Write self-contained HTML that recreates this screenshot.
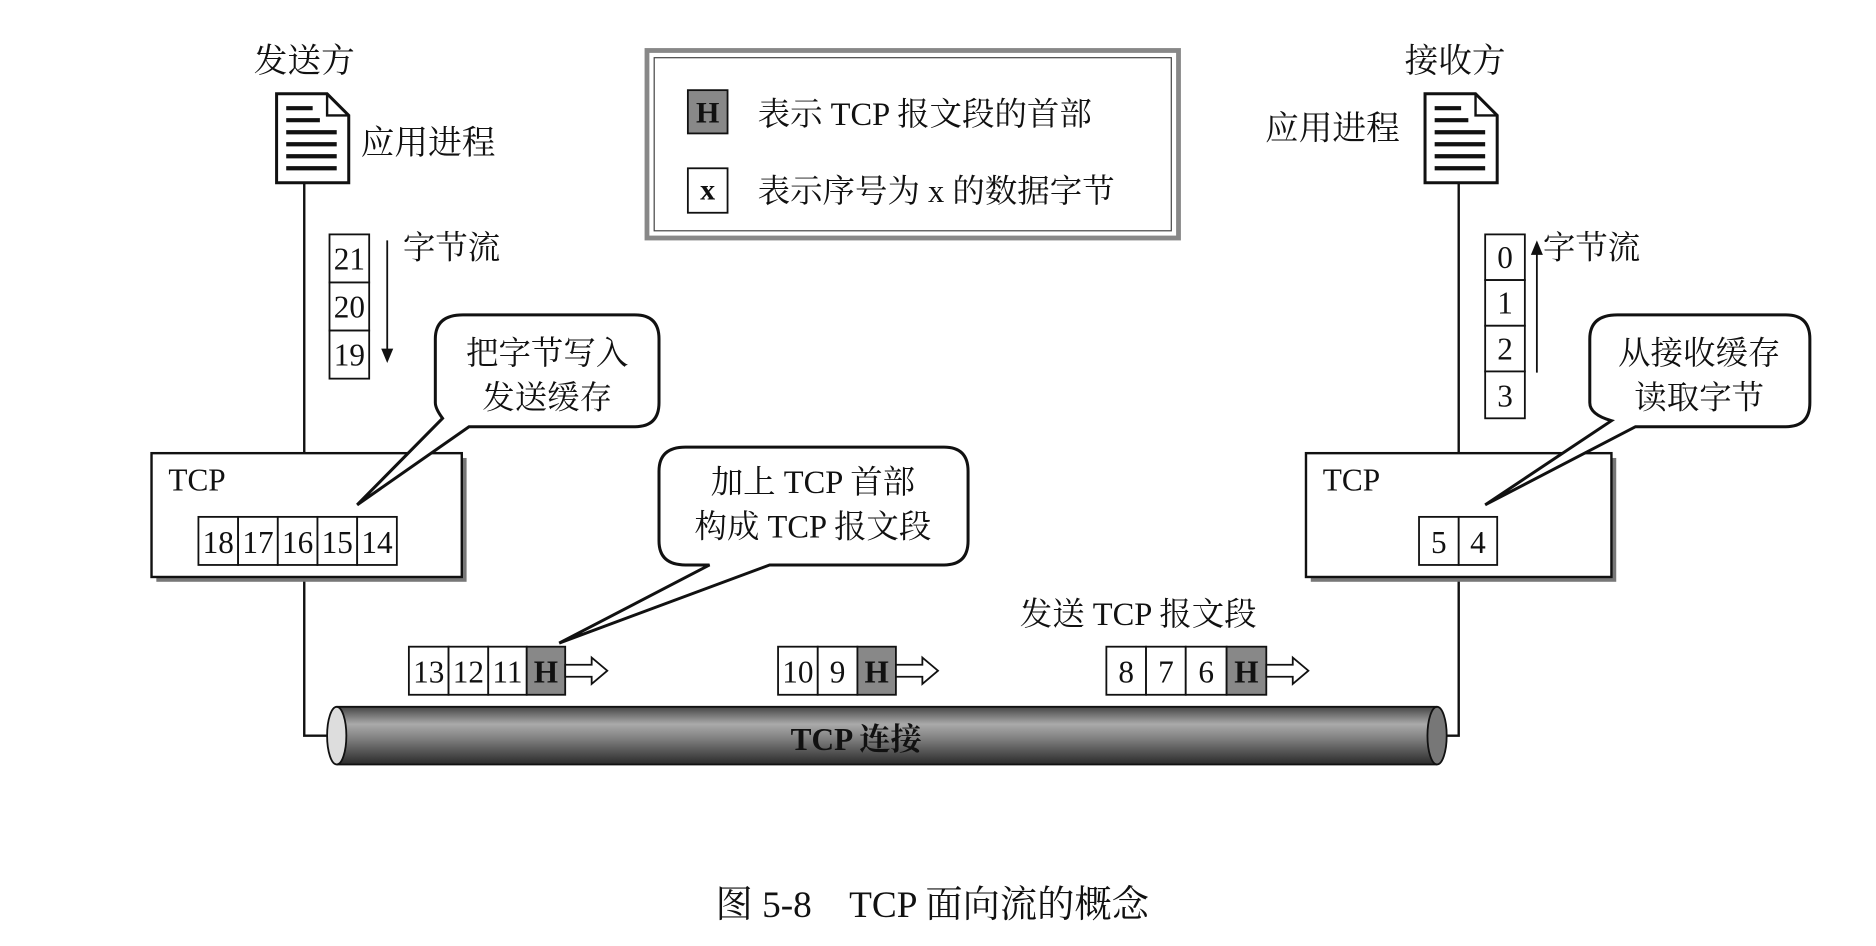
<!DOCTYPE html>
<html><head><meta charset="utf-8"><style>
html,body{margin:0;padding:0;background:#fff;}
svg{display:block;}
text{font-family:"Liberation Serif","Noto Serif CJK SC",serif;fill:#111;}
</style></head><body>
<svg width="1876" height="946" viewBox="0 0 1560 787" preserveAspectRatio="none" xmlns="http://www.w3.org/2000/svg">
<defs>
<linearGradient id="pipe" x1="0" y1="0" x2="0" y2="1">
<stop offset="0" stop-color="#444"/><stop offset="0.3" stop-color="#aaa"/><stop offset="0.55" stop-color="#808080"/><stop offset="1" stop-color="#2a2a2a"/>
</linearGradient>
<g id="doc">
<path d="M0,0 H42 L60,18 V74 H0 Z" fill="#fff" stroke="#111" stroke-width="2.5"/>
<path d="M42,0 V18 H60" fill="none" stroke="#111" stroke-width="2"/>
<path d="M8,12 H30 M8,22 H36 M8,32 H50 M8,42 H50 M8,52 H50 M8,62 H50" stroke="#111" stroke-width="3.5"/>
</g>
</defs>
<g stroke="#111" stroke-width="2" fill="none">
<path d="M253,152 V377"/>
<path d="M253,480 V612 H285"/>
<path d="M1213,152 V377"/>
<path d="M1213,480 V612 H1195"/>
</g>
<!-- pipe -->
<rect x="280" y="588" width="915" height="48" fill="url(#pipe)"/>
<ellipse cx="1195" cy="612" rx="8" ry="24" fill="#777" stroke="#111" stroke-width="1.5"/>
<ellipse cx="280" cy="612" rx="8" ry="24" fill="#ddd" stroke="#111" stroke-width="1.5"/>
<path d="M280,588 H1195 M280,636 H1195" stroke="#111" stroke-width="1.5"/>
<text x="712" y="624" font-size="26" text-anchor="middle" font-weight="bold">TCP 连接</text>

<!-- headings -->
<text x="253" y="60" font-size="28" text-anchor="middle">发送方</text>
<use href="#doc" x="230" y="78"/>
<text x="300" y="128" font-size="28">应用进程</text>
<text x="1210" y="60" font-size="28" text-anchor="middle">接收方</text>
<use href="#doc" x="1185" y="78"/>
<text x="1052" y="116" font-size="28">应用进程</text>

<!-- legend -->
<rect x="538" y="42" width="442" height="156" fill="#fff" stroke="#888" stroke-width="4"/>
<rect x="544" y="48" width="430" height="144" fill="none" stroke="#444" stroke-width="1"/>
<rect x="572" y="75" width="33" height="36" fill="#888" stroke="#111" stroke-width="1.5"/>
<text x="588.5" y="102" font-size="25" text-anchor="middle" font-weight="bold">H</text>
<text x="630" y="104" font-size="27">表示 TCP 报文段的首部</text>
<rect x="572" y="140" width="33" height="37" fill="#fff" stroke="#111" stroke-width="1.5"/>
<text x="588.5" y="166" font-size="25" text-anchor="middle" font-weight="bold">x</text>
<text x="630" y="168" font-size="27">表示序号为 x 的数据字节</text>

<!-- sender byte stream -->
<g stroke="#111" stroke-width="1.5" fill="#fff">
<rect x="274" y="195" width="33" height="40"/><rect x="274" y="235" width="33" height="40"/><rect x="274" y="275" width="33" height="40"/>
</g>
<g font-size="26" text-anchor="middle"><text x="290.5" y="224">21</text><text x="290.5" y="264">20</text><text x="290.5" y="304">19</text></g>
<path d="M322,200 V292" stroke="#111" stroke-width="1.5"/><path d="M317,290 L322,302 L327,290 Z" fill="#111"/>
<text x="335" y="215" font-size="27">字节流</text>

<!-- TCP left -->
<rect x="130" y="381" width="258" height="103" fill="#777"/>
<rect x="126" y="377" width="258" height="103" fill="#fff" stroke="#111" stroke-width="2"/>
<text x="140" y="408" font-size="26">TCP</text>
<g stroke="#111" stroke-width="1.5" fill="#fff">
<rect x="165" y="430" width="33" height="40"/><rect x="198" y="430" width="33" height="40"/><rect x="231" y="430" width="33" height="40"/><rect x="264" y="430" width="33" height="40"/><rect x="297" y="430" width="33" height="40"/>
</g>
<g font-size="26" text-anchor="middle"><text x="181.5" y="460">18</text><text x="214.5" y="460">17</text><text x="247.5" y="460">16</text><text x="280.5" y="460">15</text><text x="313.5" y="460">14</text></g>

<!-- bubble 1 -->
<path d="M385,262 H528 Q548,262 548,282 V335 Q548,355 528,355 H390 L297,420 L368,348 Q362,340 362,335 V282 Q362,262 385,262 Z" fill="#fff" stroke="#111" stroke-width="2.5"/>
<text x="455" y="303" font-size="27" text-anchor="middle">把字节写入</text>
<text x="455" y="340" font-size="27" text-anchor="middle">发送缓存</text>

<!-- TCP right -->
<rect x="1090" y="381" width="254" height="103" fill="#777"/>
<rect x="1086" y="377" width="254" height="103" fill="#fff" stroke="#111" stroke-width="2"/>
<text x="1100" y="408" font-size="26">TCP</text>
<g stroke="#111" stroke-width="1.5" fill="#fff"><rect x="1180" y="430" width="33" height="40"/><rect x="1213" y="430" width="32" height="40"/></g>
<g font-size="26" text-anchor="middle"><text x="1196.5" y="460">5</text><text x="1229" y="460">4</text></g>

<!-- bubble 3 -->
<path d="M1345,262 H1485 Q1505,262 1505,282 V335 Q1505,355 1485,355 H1360 L1235,420 L1340,350 Q1322,345 1322,335 V282 Q1322,262 1345,262 Z" fill="#fff" stroke="#111" stroke-width="2.5"/>
<text x="1413" y="303" font-size="27" text-anchor="middle">从接收缓存</text>
<text x="1413" y="340" font-size="27" text-anchor="middle">读取字节</text>

<!-- bubble 2 -->
<path d="M570,372 H785 Q805,372 805,392 V450 Q805,470 785,470 H640 L465,535 L590,470 H570 Q548,470 548,450 V392 Q548,372 570,372 Z" fill="#fff" stroke="#111" stroke-width="2.5"/>
<text x="676" y="410" font-size="27" text-anchor="middle">加上 TCP 首部</text>
<text x="676" y="447" font-size="27" text-anchor="middle">构成 TCP 报文段</text>

<text x="848" y="520" font-size="27">发送 TCP 报文段</text>

<!-- segments -->
<g stroke="#111" stroke-width="1.5" fill="#fff">
<rect x="340" y="538" width="33" height="40"/><rect x="373" y="538" width="33" height="40"/><rect x="406" y="538" width="32" height="40"/><rect x="438" y="538" width="32" height="40" fill="#888"/>
<rect x="647" y="538" width="33" height="40"/><rect x="680" y="538" width="33" height="40"/><rect x="713" y="538" width="32" height="40" fill="#888"/>
<rect x="920" y="538" width="33" height="40"/><rect x="953" y="538" width="33" height="40"/><rect x="986" y="538" width="34" height="40"/><rect x="1020" y="538" width="33" height="40" fill="#888"/>
<path d="M470,553 H492 V547 L505,558 L492,569 V563 H470 Z"/>
<path d="M745,553 H767 V547 L780,558 L767,569 V563 H745 Z"/>
<path d="M1053,553 H1075 V547 L1088,558 L1075,569 V563 H1053 Z"/>
</g>
<g font-size="26" text-anchor="middle">
<text x="356.5" y="568">13</text><text x="389.5" y="568">12</text><text x="422" y="568">11</text><text x="454" y="568" font-weight="bold">H</text>
<text x="663.5" y="568">10</text><text x="696.5" y="568">9</text><text x="729" y="568" font-weight="bold">H</text>
<text x="936.5" y="568">8</text><text x="969.5" y="568">7</text><text x="1003" y="568">6</text><text x="1036.5" y="568" font-weight="bold">H</text>
</g>

<!-- receiver stream -->
<g stroke="#111" stroke-width="1.5" fill="#fff">
<rect x="1235" y="195" width="33" height="38"/><rect x="1235" y="233" width="33" height="38"/><rect x="1235" y="271" width="33" height="38"/><rect x="1235" y="309" width="33" height="39"/>
</g>
<g font-size="26" text-anchor="middle"><text x="1251.5" y="223">0</text><text x="1251.5" y="261">1</text><text x="1251.5" y="299">2</text><text x="1251.5" y="338">3</text></g>
<path d="M1278,310 V210" stroke="#111" stroke-width="1.5"/><path d="M1273,212 L1278,200 L1283,212 Z" fill="#111"/>
<text x="1283" y="215" font-size="27">字节流</text>

<!-- caption -->
<text x="595" y="763" font-size="31">图 5-8　TCP 面向流的概念</text>
</svg>
</body></html>
